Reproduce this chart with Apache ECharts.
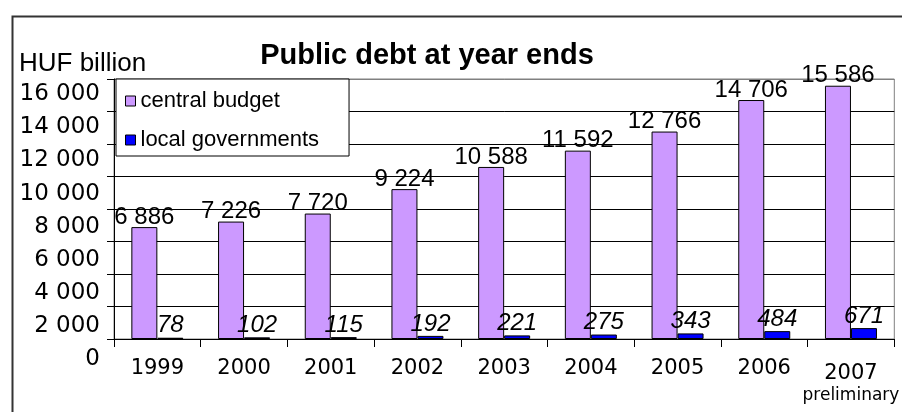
<!DOCTYPE html>
<html>
<head>
<meta charset="utf-8">
<script src="https://cdn.jsdelivr.net/npm/echarts@6/dist/echarts.min.js"></script>
<style>
html,body{margin:0;padding:0;background:#fff;}
#chart{width:902px;height:412px;}
</style>
</head>
<body>
<div id="chart"></div>
<script>
var years = ['1999','2000','2001','2002','2003','2004','2005','2006','2007'];
var centralBudget = [6886, 7226, 7720, 9224, 10588, 11592, 12766, 14706, 15586];
var localGovernments = [78, 102, 115, 192, 221, 275, 343, 484, 671];
var seriesNames = ['central budget', 'local governments'];
var chartTitle = 'Public debt at year ends';
var unitLabel = 'HUF billion';
var lastYearNote = 'preliminary';

var labelFont = '"Liberation Sans", Arial, sans-serif';
var chart = echarts.init(document.getElementById('chart'), null, {renderer: 'canvas'});

function fmt(v) {
  var s = String(v);
  return s.replace(/\B(?=(\d{3})+(?!\d))/g, ' ');
}

var option = {
  animation: false,
  backgroundColor: '#fff',
  title: [
    {text: chartTitle, left: 422, textAlign: 'center', top: 36,
     textStyle: {fontFamily: '"Liberation Sans", Arial, sans-serif', fontWeight: 'bold', fontSize: 29, color: '#000'}},
    {text: unitLabel, left: 14, top: 46,
     textStyle: {fontFamily: '"Liberation Sans", Arial, sans-serif', fontWeight: 'normal', fontSize: 26, color: '#000'}}
  ],
  graphic: [
    {type: 'rect', left: 10, top: 14, silent: true, z: 100,
     shape: {x: 0, y: 0, width: 1000, height: 600},
     style: {fill: 'none', stroke: '#333', lineWidth: 2}}
  ],
  legend: {
    orient: 'vertical', left: 116, top: 79,
    padding: [11, 30, 5, 9], itemGap: 17,
    backgroundColor: '#fff', borderColor: '#000', borderWidth: 1,
    itemWidth: 10, itemHeight: 10,
    textStyle: {fontFamily: '"Liberation Sans", Arial, sans-serif', fontSize: 22, color: '#000'},
    data: [
      {name: seriesNames[0], icon: 'rect', itemStyle: {color: '#CC99FF', borderColor: '#000', borderWidth: 1}},
      {name: seriesNames[1], icon: 'rect', itemStyle: {color: '#0000FF', borderColor: '#000', borderWidth: 1}}
    ],
    z: 10
  },
  grid: [
    {left: 114, top: 79, width: 787, height: 260, show: true, borderColor: '#808080', borderWidth: 1, backgroundColor: 'transparent'},
    {left: 114, top: 94, width: 787, height: 265.5, show: false}
  ],
  xAxis: [
    {type: 'category', gridIndex: 0, data: years, boundaryGap: true,
     axisLine: {lineStyle: {color: '#000', width: 1}},
     axisTick: {show: true, length: 8, interval: 0, lineStyle: {color: '#000'}},
     axisLabel: {
       interval: 0, hideOverlap: false,
       margin: 19, color: '#000', fontFamily: '"DejaVu Sans", sans-serif', fontSize: 21,
       formatter: function (v) {
         return v === years[years.length - 1] ? '{a|' + v + '}\n{b|' + lastYearNote + '}' : v;
       },
       rich: {
         a: {fontFamily: '"DejaVu Sans", sans-serif', fontSize: 21, color: '#000', padding: [5, 0, 0, 0], lineHeight: 26},
         b: {fontFamily: '"DejaVu Sans", sans-serif', fontSize: 17, color: '#000', lineHeight: 24}
       }
     },
     splitLine: {show: false}},
    {type: 'category', gridIndex: 1, data: years, show: false}
  ],
  yAxis: [
    {type: 'value', gridIndex: 0, min: 0, max: 16000, interval: 2000,
     axisLine: {show: true, lineStyle: {color: '#000', width: 1}},
     axisTick: {show: true, length: 7, lineStyle: {color: '#000'}},
     axisLabel: {show: false},
     splitLine: {show: true, lineStyle: {color: ['#000','#000','#000','#000','#000','#000','#000','#000','#808080'], width: 1}}},
    {type: 'value', gridIndex: 1, min: 0, max: 16000, interval: 2000,
     axisLine: {show: false}, axisTick: {show: false}, splitLine: {show: false},
     axisLabel: {show: true, margin: 14, color: '#000', fontFamily: '"DejaVu Sans", sans-serif', fontSize: 23,
       formatter: function (v) { return fmt(v); }}}
  ],
  series: [
    {name: seriesNames[0], type: 'bar', xAxisIndex: 0, yAxisIndex: 0, data: centralBudget,
     barWidth: 26, barGap: '0%',
     itemStyle: {color: '#CC99FF', borderColor: '#000', borderWidth: 1},
     label: {show: true, position: 'top', distance: -2, color: '#000',
       fontFamily: labelFont, fontSize: 24, formatter: function (p) { return fmt(p.value); }}},
    {name: seriesNames[1], type: 'bar', xAxisIndex: 0, yAxisIndex: 0, data: localGovernments,
     barWidth: 26, barGap: '0%',
     itemStyle: {color: '#0000FF', borderColor: '#000', borderWidth: 1},
     label: {show: true, position: 'top', distance: 0, color: '#000', fontStyle: 'italic',
       fontFamily: labelFont, fontSize: 24, formatter: function (p) { return fmt(p.value); }}}
  ]
};
chart.setOption(option);
</script>
</body>
</html>
